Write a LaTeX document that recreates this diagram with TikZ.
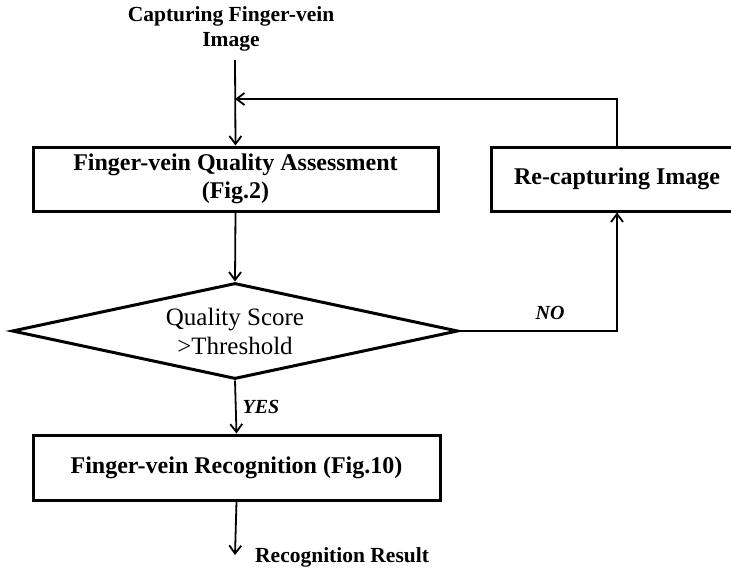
\documentclass[tikz,border=0pt]{standalone}
\usepackage{fontspec}
\setmainfont{Liberation Serif}
\usetikzlibrary{shapes.geometric,arrows.meta}
\begin{document}
\begin{tikzpicture}[x=1pt,y=-1pt,
  box/.style={draw,line width=3pt,rectangle,inner sep=0pt,align=center,font=\fontsize{24}{28}\selectfont\bfseries},
  dec/.style={draw,line width=3pt,diamond,aspect=4.65,inner sep=0pt,align=center,minimum width=446pt,minimum height=96pt,font=\fontsize{25}{29}\selectfont},
  conn/.style={line width=1.8pt},
  arr/.style={conn,-{Straight Barb[length=8pt,width=12pt,line width=1.8pt]}},
  lab/.style={font=\fontsize{20}{22}\selectfont\bfseries\itshape},
  txt/.style={align=center,inner sep=0pt,font=\fontsize{21.5}{25}\selectfont\bfseries}]
\clip (0,0) rectangle (731,570);
\useasboundingbox (0,0) rectangle (731,570);
\node[txt] (top) at (231,29) {Capturing Finger-vein\\Image};
\coordinate (s) at (235,60);
\node[box,minimum width=405pt,minimum height=64pt] (qa) at (235.5,179) {Finger-vein Quality Assessment\\(Fig.2)};
\node[box,minimum width=252pt,minimum height=64pt] (rc) at (617,179) {Re-capturing Image};
\node[dec] (q) at (235,331) {Quality Score\\>Threshold};
\node[box,minimum width=407pt,minimum height=65pt] (rec) at (236.5,467.5) {Finger-vein Recognition (Fig.10)};
\coordinate (c1) at (617,331);
\coordinate (c2) at (617,99);
\coordinate (j) at (235,99);
\coordinate (e) at (235,555);
\node[txt,anchor=west] (res) at (255,557) {Recognition Result};
\node[lab] (no) at (550,313) {NO};
\node[lab] (yes) at (261,407) {YES};
\draw[arr] (s) -- (qa.north);
\draw[arr] (rc.north) -- (c2) -- (j);
\draw[arr] (qa.south) -- (q.north);
\draw[arr] (q.east) -- (c1) -- (rc.south);
\draw[arr] (q.south) -- (rec.north);
\draw[arr] (rec.south) -- (e);
\end{tikzpicture}
\end{document}
